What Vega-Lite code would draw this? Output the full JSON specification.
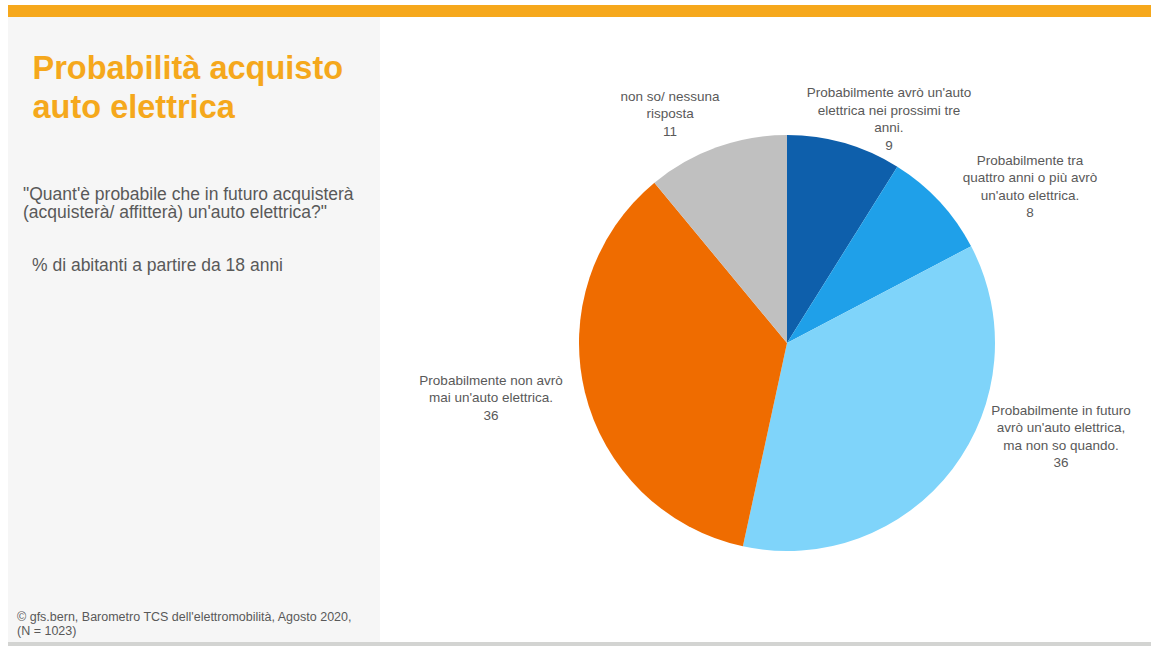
{
  "$schema": "https://vega.github.io/schema/vega-lite/v6.json",
  "background": "white",
  "padding": {"left": 8, "top": 5, "right": 0, "bottom": 0},
  "config": {"view": {"stroke": null}, "font": "Liberation Sans"},
  "spacing": 0,
  "vconcat": [
    {
      "width": 1143, "height": 12,
      "data": {"values": []},
      "mark": "text",
      "view": {"fill": "#F6A81C", "stroke": null}
    },
    {
      "spacing": 39,
      "hconcat": [
        {
          "spacing": 0,
          "bounds": "flush",
          "vconcat": [
            {
              "width": 372, "height": 133,
              "data": {"values": []},
              "mark": "text",
              "view": {"fill": "#F6F6F6", "stroke": null},
              "title": {
                "text": ["Probabilità acquisto", "auto elettrica"],
                "orient": "top", "anchor": "start", "frame": "group",
                "offset": -107, "dx": 24.5,
                "font": "Liberation Sans", "fontSize": 32.5, "fontWeight": "bold",
                "color": "#F5A81C", "lineHeight": 39
              }
            },
            {
              "width": 372, "height": 100,
              "data": {"values": []},
              "mark": "text",
              "view": {"fill": "#F6F6F6", "stroke": null},
              "title": {
                "text": ["\"Quant'è probabile che in futuro acquisterà", "(acquisterà/ affitterà) un'auto elettrica?\""],
                "orient": "top", "anchor": "start", "frame": "group",
                "offset": -71, "dx": 15,
                "font": "Liberation Sans", "fontSize": 17.5, "fontWeight": "normal",
                "color": "#595959", "lineHeight": 18
              }
            },
            {
              "width": 372, "height": 50,
              "data": {"values": []},
              "mark": "text",
              "view": {"fill": "#F6F6F6", "stroke": null},
              "title": {
                "text": "% di abitanti a partire da 18 anni",
                "orient": "top", "anchor": "start", "frame": "group",
                "offset": -24, "dx": 24,
                "font": "Liberation Sans", "fontSize": 17.5, "fontWeight": "normal",
                "color": "#595959"
              }
            },
            {
              "width": 372, "height": 342,
              "data": {"values": []},
              "mark": "text",
              "view": {"fill": "#F6F6F6", "stroke": null},
              "title": {
                "text": ["©  gfs.bern, Barometro TCS dell'elettromobilità, Agosto 2020,", "(N = 1023)"],
                "orient": "top", "anchor": "start", "frame": "group",
                "offset": -337, "dx": 9,
                "font": "Liberation Sans", "fontSize": 12.5, "fontWeight": "normal",
                "color": "#595959", "lineHeight": 14
              }
            }
          ]
        },
        {
          "spacing": 0,
          "bounds": "flush",
          "vconcat": [
            {
              "width": 728, "height": 27,
              "data": {"values": []},
              "mark": "text"
            },
            {
              "width": 728, "height": 598,
              "data": {"values": [
                {"order": 1, "category": "Probabilmente avrò un'auto elettrica nei prossimi tre anni.", "label": "Probabilmente avrò un'auto\nelettrica nei prossimi tre\nanni.", "value": 8.9},
                {"order": 2, "category": "Probabilmente tra quattro anni o più avrò un'auto elettrica.", "label": "Probabilmente tra\nquattro anni o più avrò\nun'auto elettrica.", "value": 8.4},
                {"order": 3, "category": "Probabilmente in futuro avrò un'auto elettrica, ma non so quando.", "label": "Probabilmente in futuro\navrò un'auto elettrica,\nma non so quando.", "value": 36.1},
                {"order": 4, "category": "Probabilmente non avrò mai un'auto elettrica.", "label": "Probabilmente non avrò\nmai un'auto elettrica.", "value": 35.6},
                {"order": 5, "category": "non so/ nessuna risposta", "label": "non so/ nessuna\nrisposta", "value": 11.0}
              ]},
              "transform": [
                {"stack": "value", "groupby": [], "sort": [{"field": "order", "order": "ascending"}], "as": ["a0", "a1"]},
                {"calculate": "(datum.a0 + datum.a1) / 2", "as": "mid"},
                {"calculate": "datum.label + '\\n' + format(datum.value, '.0f')", "as": "txt"}
              ],
              "layer": [
                {
                  "mark": {"type": "arc", "radius": 208},
                  "encoding": {
                    "theta": {"field": "a0", "type": "quantitative", "stack": null, "scale": {"domain": [0, 100]}},
                    "theta2": {"field": "a1"},
                    "color": {
                      "field": "category", "type": "nominal", "legend": null,
                      "scale": {
                        "domain": [
                          "Probabilmente avrò un'auto elettrica nei prossimi tre anni.",
                          "Probabilmente tra quattro anni o più avrò un'auto elettrica.",
                          "Probabilmente in futuro avrò un'auto elettrica, ma non so quando.",
                          "Probabilmente non avrò mai un'auto elettrica.",
                          "non so/ nessuna risposta"
                        ],
                        "range": ["#0E5FAB", "#1FA0E9", "#7FD4FA", "#EF6C00", "#C0C0C0"]
                      }
                    }
                  }
                },
                {
                  "transform": [{"filter": "datum.order == 1"}],
                  "mark": {"type": "text", "radius": 255, "dx": 31.6, "dy": -4.9, "align": "center", "baseline": "middle", "lineBreak": "\n", "lineHeight": 17.5, "font": "Liberation Sans", "fontSize": 13.5, "color": "#595959"},
                  "encoding": {"theta": {"field": "mid", "type": "quantitative", "stack": null}, "text": {"field": "txt"}}
                },
                {
                  "transform": [{"filter": "datum.order == 2"}],
                  "mark": {"type": "text", "radius": 255, "dx": 56, "dy": -8.7, "align": "center", "baseline": "middle", "lineBreak": "\n", "lineHeight": 17.5, "font": "Liberation Sans", "fontSize": 13.5, "color": "#595959"},
                  "encoding": {"theta": {"field": "mid", "type": "quantitative", "stack": null}, "text": {"field": "txt"}}
                },
                {
                  "transform": [{"filter": "datum.order == 3"}],
                  "mark": {"type": "text", "radius": 255, "dx": 71, "dy": -86.4, "align": "center", "baseline": "middle", "lineBreak": "\n", "lineHeight": 17.5, "font": "Liberation Sans", "fontSize": 13.5, "color": "#595959"},
                  "encoding": {"theta": {"field": "mid", "type": "quantitative", "stack": null}, "text": {"field": "txt"}}
                },
                {
                  "transform": [{"filter": "datum.order == 4"}],
                  "mark": {"type": "text", "radius": 255, "dx": -48.2, "dy": -22.8, "align": "center", "baseline": "middle", "lineBreak": "\n", "lineHeight": 17.5, "font": "Liberation Sans", "fontSize": 13.5, "color": "#595959"},
                  "encoding": {"theta": {"field": "mid", "type": "quantitative", "stack": null}, "text": {"field": "txt"}}
                },
                {
                  "transform": [{"filter": "datum.order == 5"}],
                  "mark": {"type": "text", "radius": 255, "dx": -30.6, "dy": -6.5, "align": "center", "baseline": "middle", "lineBreak": "\n", "lineHeight": 17.5, "font": "Liberation Sans", "fontSize": 13.5, "color": "#595959"},
                  "encoding": {"theta": {"field": "mid", "type": "quantitative", "stack": null}, "text": {"field": "txt"}}
                }
              ]
            }
          ]
        }
      ]
    },
    {
      "width": 1143, "height": 4,
      "data": {"values": []},
      "mark": "text",
      "view": {"fill": "#D3D4D2", "stroke": null}
    }
  ]
}
